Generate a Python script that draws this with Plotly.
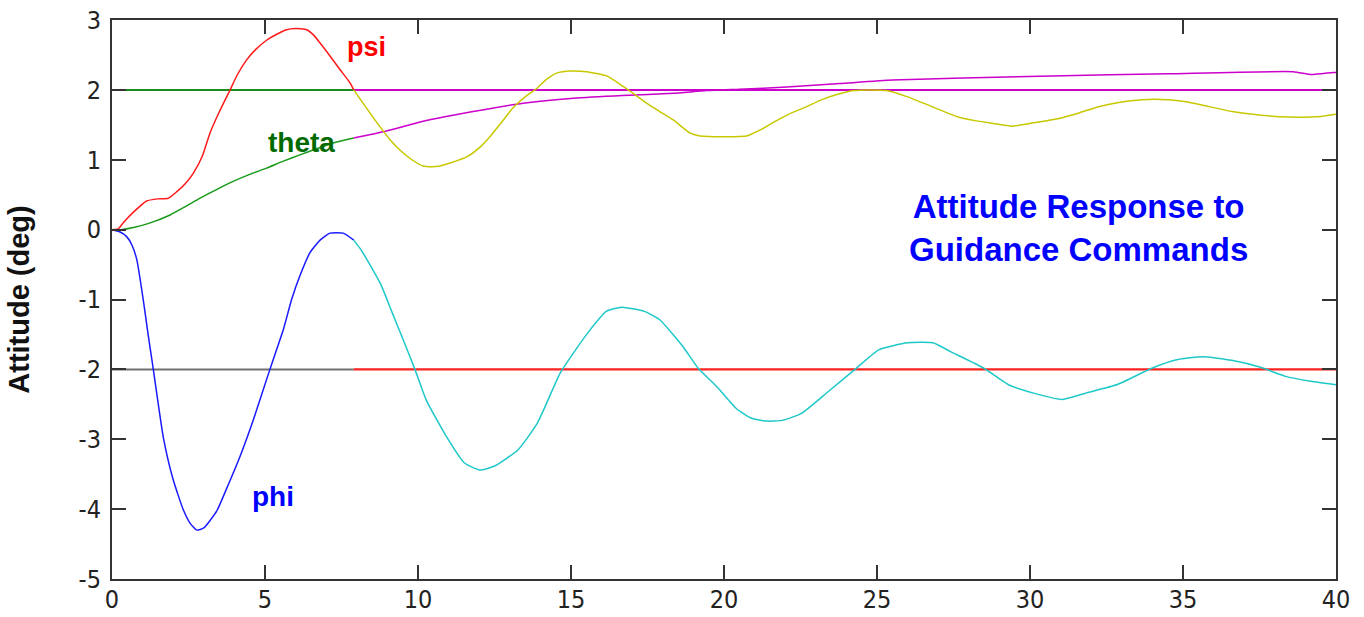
import plotly.graph_objects as go

# ---- data ----
psi_t_a = [0, 0.2, 0.37, 0.7, 1.13, 1.5, 1.84, 2.11, 2.4, 2.66, 2.95, 3.2, 3.5, 3.86, 4.1, 4.4, 4.7,
           5.05, 5.4, 5.7, 6.0, 6.36, 6.6, 6.8, 7.1, 7.4, 7.78, 7.9]
psi_a = [0, 0.01, 0.1, 0.25, 0.41, 0.44, 0.45, 0.54, 0.66, 0.81, 1.05, 1.38, 1.68, 2.0, 2.22, 2.43, 2.58,
         2.71, 2.8, 2.86, 2.88, 2.86, 2.78, 2.67, 2.5, 2.32, 2.1, 2.0]

psi_t_b = [7.9, 8.3, 8.76, 9.1, 9.41, 9.8, 10.17, 10.45, 10.72, 11.1, 11.59, 12.0, 12.35, 12.7, 13.1,
           13.5, 13.88, 14.2, 14.53, 15.0, 15.51, 16.17, 16.7, 17.1, 17.47, 17.9, 18.34, 18.9, 19.22,
           20.0, 20.74, 21.2, 21.6, 22.1, 22.7, 23.2, 23.66, 24.25, 24.8, 25.3, 26.0, 26.8, 27.6, 28.2,
           28.8, 29.4, 30.0, 30.95, 31.6, 32.24, 32.9, 33.65, 34.5, 35.1, 35.65, 36.6, 37.3, 38.0, 38.8,
           39.5, 40.0]
psi_b = [2.0, 1.75, 1.47, 1.28, 1.14, 1.0, 0.91, 0.9, 0.91, 0.96, 1.04, 1.17, 1.33, 1.52, 1.74,
         1.9, 2.02, 2.15, 2.24, 2.27, 2.26, 2.2, 2.05, 1.93, 1.81, 1.69, 1.57, 1.38, 1.34,
         1.33, 1.34, 1.43, 1.53, 1.65, 1.76, 1.86, 1.93, 1.99, 2.0, 1.99, 1.9, 1.76, 1.62, 1.56,
         1.52, 1.48, 1.52, 1.59, 1.67, 1.76, 1.82, 1.86, 1.86, 1.83, 1.78, 1.69, 1.65, 1.62, 1.61,
         1.62, 1.65]

theta_t_a = [0, 0.3, 0.7, 1.2, 1.9, 2.4, 2.88, 3.4, 3.96, 4.5, 5.05, 5.6, 6.14, 6.7, 7.23, 7.9]
theta_a = [0, 0.0, 0.03, 0.09, 0.21, 0.33, 0.45, 0.57, 0.69, 0.79, 0.88, 0.98, 1.07, 1.16, 1.24, 1.31]

theta_t_b = [7.9, 8.87, 10.17, 11.8, 13.44, 15.08, 16.7, 18.34, 19.43, 20.5, 22.05, 23.8, 25.5,
             27.8, 30.7, 34.5, 38.6, 39.2, 39.9, 40]
theta_b = [1.31, 1.40, 1.55, 1.69, 1.81, 1.88, 1.92, 1.95, 1.99, 2.01, 2.04, 2.09, 2.14,
           2.17, 2.2, 2.23, 2.26, 2.22, 2.25, 2.25]

phi_t_a = [0, 0.25, 0.48, 0.65, 0.81, 1.02, 1.18, 1.35, 1.68, 2.0, 2.33, 2.55, 2.77, 3.0, 3.42, 3.8,
           4.18, 4.62, 5.16, 5.6, 5.87, 6.15, 6.47, 6.8, 7.12, 7.56, 7.9]
phi_a = [0, -0.03, -0.1, -0.22, -0.43, -1.0, -1.5, -2.0, -2.98, -3.58, -4.01, -4.2, -4.3, -4.27, -4.03,
         -3.65, -3.25, -2.72, -2.0, -1.43, -1.0, -0.65, -0.33, -0.15, -0.05, -0.05, -0.15]

phi_t_b = [7.9, 8.14, 8.77, 9.14, 9.52, 9.9, 10.27, 10.9, 11.52, 12.02, 12.52, 13.27, 13.9, 14.65,
           15.15, 15.65, 16.15, 16.65, 17.4, 17.9, 18.65, 19.15, 19.77, 20.4, 20.9, 21.4, 21.9, 22.53,
           23.4, 24.28, 25.06, 26.0, 26.83, 27.42, 28.48, 29.3, 30.12, 31.06, 31.89, 32.83, 34.0,
           34.83, 35.65, 36.59, 37.53, 38.35, 39.18, 40]
phi_b = [-0.15, -0.29, -0.77, -1.17, -1.58, -2.0, -2.44, -2.94, -3.34, -3.44, -3.38, -3.15, -2.77,
         -2.05, -1.72, -1.42, -1.17, -1.11, -1.17, -1.29, -1.67, -1.98, -2.25, -2.56, -2.7, -2.74,
         -2.73, -2.63, -2.32, -2.0, -1.72, -1.62, -1.62, -1.75, -1.98, -2.22, -2.34, -2.43, -2.33,
         -2.22, -1.98, -1.86, -1.82, -1.87, -1.97, -2.1, -2.17, -2.22]

cmd_t_a = [0, 7.9]
cmd_t_b = [7.9, 40]
theta_cmd = 2
phi_cmd = -2

x_ticks = [0, 5, 10, 15, 20, 25, 30, 35, 40]
y_ticks = [-5, -4, -3, -2, -1, 0, 1, 2, 3]

# ---- figure ----
fig = go.Figure()


def line(x, y, color, width=1.5, smooth=True):
    ln = dict(color=color, width=width)
    if smooth:
        ln.update(shape="spline", smoothing=0.5)
    fig.add_trace(go.Scatter(x=x, y=y, mode="lines", line=ln,
                             showlegend=False, hoverinfo="skip"))


# command lines
line(cmd_t_a, [theta_cmd] * 2, "#1a8c1a", 2, False)
line(cmd_t_b, [theta_cmd] * 2, "#cc00cc", 2, False)
line(cmd_t_a, [phi_cmd] * 2, "#707070", 2, False)
line(cmd_t_b, [phi_cmd] * 2, "#ff2020", 2.2, False)

# responses
line(theta_t_a, theta_a, "#1a9a1a")
line(theta_t_b, theta_b, "#cc00cc")
line(psi_t_a, psi_a, "#ff1a1a")
line(psi_t_b, psi_b, "#c8c800")
line(phi_t_a, phi_a, "#1a1aff")
line(phi_t_b, phi_b, "#1ec8c8")

lab_font = "Liberation Sans, Arial, sans-serif"
fig.add_annotation(x=8.33, y=2.62, text="<b>psi</b>", showarrow=False,
                   font=dict(family=lab_font, size=27, color="#ff0000"))
fig.add_annotation(x=6.2, y=1.25, text="<b>theta</b>", showarrow=False,
                   font=dict(family=lab_font, size=28, color="#006a00"))
fig.add_annotation(x=5.25, y=-3.82, text="<b>phi</b>", showarrow=False,
                   font=dict(family=lab_font, size=28, color="#0000ff"))
fig.add_annotation(x=31.6, y=0.02, text="<b>Attitude Response to<br>Guidance Commands</b>",
                   showarrow=False, align="center",
                   font=dict(family=lab_font, size=33, color="#0000ff"))

tick_font = dict(family="Liberation Sans Narrow, DejaVu Sans Condensed, Liberation Sans, Arial",
                 size=25, color="#222222")
axis_common = dict(showgrid=False, zeroline=False, showline=True, linecolor="#333333", linewidth=2,
                   mirror="ticks", ticks="inside", ticklen=14, tickwidth=2, tickcolor="#333333",
                   tickfont=tick_font, automargin=False)

fig.update_xaxes(range=[0, 40], tickvals=x_ticks, ticktext=[str(v) for v in x_ticks],
                 ticklabelstandoff=-3, **axis_common)
fig.update_yaxes(range=[-5, 3], tickvals=y_ticks, ticktext=[str(v) for v in y_ticks],
                 ticklabelstandoff=4,
                 title=dict(text="<b>Attitude (deg)</b>", standoff=40,
                            font=dict(family=lab_font, size=29, color="#111111")),
                 **axis_common)

fig.update_layout(width=1364, height=617, margin=dict(l=112, r=28, t=20, b=38),
                  paper_bgcolor="white", plot_bgcolor="white")

fig.write_html("out.html")
